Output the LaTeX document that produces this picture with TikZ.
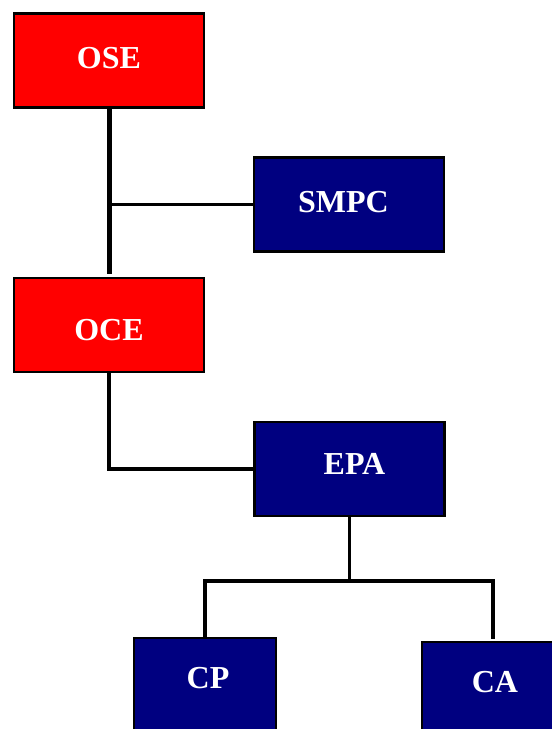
\documentclass[tikz,border=0pt]{standalone}
\usepackage{fontspec}
\setmainfont{Liberation Serif}
\definecolor{navyb}{HTML}{000080}
\definecolor{redb}{HTML}{FF0000}
\begin{document}
\begin{tikzpicture}[x=1pt,y=-1pt,
  box/.style={draw=black,line width=2.3pt,inner sep=0pt,minimum width=190pt,minimum height=94pt},
  redbox/.style={box,fill=redb},
  bluebox/.style={box,fill=navyb},
  lbl/.style={text=white,font=\fontsize{32}{38}\selectfont\bfseries,inner sep=0pt,anchor=base},
  heavylink/.style={draw=black,line width=5pt},
  link/.style={draw=black,line width=3.2pt,line cap=rect}]
\useasboundingbox (0,0) rectangle (552,729);
\clip (0,0) rectangle (552,729);
% boxes
\node[redbox] (ose) at (109,60.5) {};
\node[bluebox] (smpc) at (349.3,204.5) {};
\node[redbox] (oce) at (109,325) {};
\node[bluebox] (epa) at (349.5,469) {};
\node[bluebox,minimum width=142pt,minimum height=130pt] (cp) at (205,703) {};
\node[bluebox,minimum width=142pt,minimum height=130pt] (ca) at (493,707) {};
% labels
\node[lbl] (tose) at (109,68) {OSE};
\node[lbl] (tsmpc) at (343.5,212.7) {SMPC};
\node[lbl] (toce) at (109,340) {OCE};
\node[lbl] (tepa) at (354.5,474) {EPA};
\node[lbl] (tcp) at (208,688) {CP};
\node[lbl] (tca) at (495,692) {CA};
% connectors
\coordinate (oseend) at (109,274);
\coordinate (tee) at (ose.south |- smpc.west);
\coordinate (bus) at (epa.south |- 0,581);
\coordinate (busl) at (cp.north |- bus);
\coordinate (busr) at (493,581);
\coordinate (caend) at (493,637);
\draw[heavylink] (ose.south) -- (oseend);
\draw[link] (tee) -- (smpc.west);
\draw[link] (oce.south) |- (epa.west);
\draw[link] (epa.south) -- (bus);
\draw[link] (busl) -- (busr);
\draw[link] (busl) -- (cp.north);
\draw[link] (busr) -- (caend);
\end{tikzpicture}
\end{document}
